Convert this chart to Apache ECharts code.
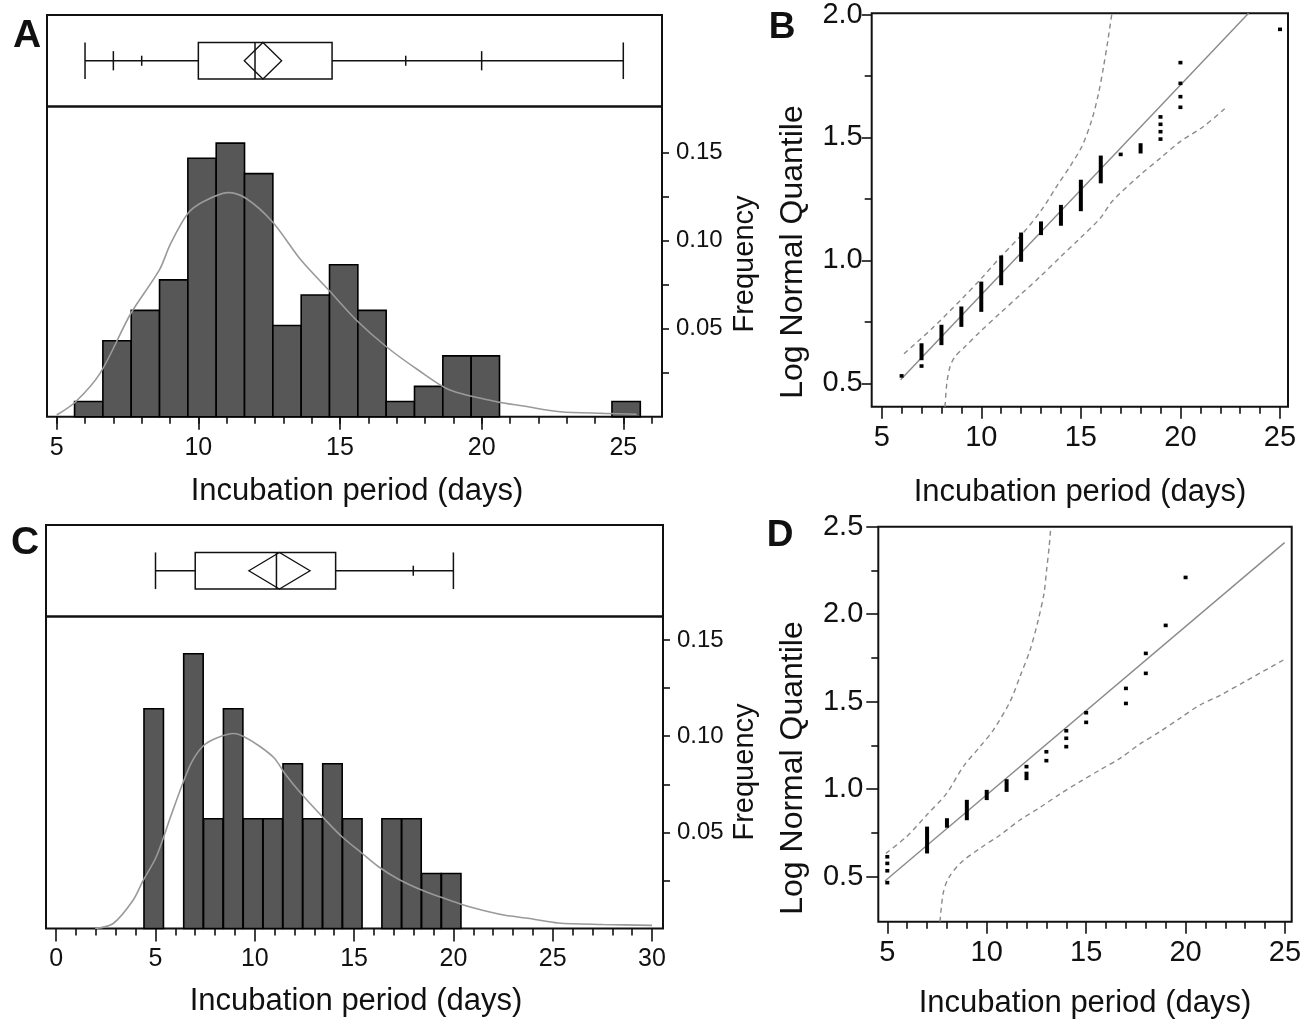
<!DOCTYPE html>
<html>
<head>
<meta charset="utf-8">
<script src="https://cdn.jsdelivr.net/npm/echarts@6.0.0/dist/echarts.min.js"></script>
<style>html,body{margin:0;padding:0;background:#fff}#c{width:1309px;height:1024px}</style>
</head>
<body>
<div id="c"></div>
<script>
// ---------------- DATA ----------------
// Panel A histogram (bin left edge in days, relative frequency)
const histA_binStart = [5.63, 6.63, 7.63, 8.63, 9.63, 10.63, 11.63, 12.63, 13.63, 14.63, 15.63, 16.63, 17.63, 18.63, 19.63, 24.6];
const histA_freq     = [0.0086, 0.0431, 0.0603, 0.0776, 0.1466, 0.1552, 0.1379, 0.0517, 0.0690, 0.0862, 0.0603, 0.0086, 0.0172, 0.0345, 0.0345, 0.0086];
const histA_binWidth = 1;
// Panel A fitted density curve
const densA_days = [5.0, 5.65, 6.53, 7.61, 8.62, 9.02, 9.63, 10.17, 11.04, 11.69, 12.62, 13.63, 14.61, 15.59, 16.66, 17.76, 18.88, 20.53, 21.47, 22.77, 24.3, 25.47];
const densA_freq = [0.001, 0.0082, 0.0246, 0.0584, 0.0831, 0.0982, 0.1153, 0.1219, 0.1271, 0.1238, 0.1105, 0.0887, 0.0717, 0.0546, 0.0394, 0.0265, 0.0151, 0.0085, 0.0061, 0.0028, 0.0019, 0.0014];
// Panel A box plot
const boxA_range = [6, 25];
const boxA_quartiles = [10, 12, 14.72];
const boxA_meanDiamond = [11.62, 12.28, 12.94];
const boxA_q025_q975 = [7, 20];
const boxA_q10_q90 = [8, 17.32];

// Panel C histogram
const histC_binStart = [4.42, 6.42, 7.42, 8.42, 9.42, 10.42, 11.42, 12.42, 13.42, 14.42, 16.4, 17.4, 18.4, 19.4];
const histC_freq     = [0.1143, 0.1429, 0.0571, 0.1143, 0.0571, 0.0571, 0.0857, 0.0571, 0.0857, 0.0571, 0.0571, 0.0571, 0.0286, 0.0286];
const histC_binWidth = 0.98;
// Panel C fitted density curve
const densC_days = [1.96, 2.87, 3.87, 4.38, 5.04, 5.76, 6.37, 6.83, 7.40, 8.02, 8.94, 9.46, 10.28, 11.0, 11.51, 12.33, 13.56, 14.39, 15.41, 16.23, 17.26, 18.49, 19.42, 20.55, 21.78, 22.6, 23.84, 25.28, 27.53, 30.0];
const densC_freq = [0.0, 0.0026, 0.0147, 0.025, 0.0373, 0.0581, 0.0754, 0.0867, 0.0949, 0.0988, 0.1014, 0.0997, 0.0945, 0.0884, 0.0806, 0.0702, 0.0564, 0.0477, 0.039, 0.0321, 0.0255, 0.0196, 0.0161, 0.0121, 0.0087, 0.0069, 0.0052, 0.0029, 0.0021, 0.0016];
// Panel C box plot
const boxC_range = [5, 20];
const boxC_quartiles = [7, 11.09, 14.07];
const boxC_meanDiamond = [9.70, 11.24, 12.78];
const boxC_q025_q975 = [];
const boxC_q10_q90 = [17.98];

// Frequency axis ticks and labels (A and C)
const freqTicks = [0.025, 0.05, 0.075, 0.10, 0.125, 0.15];
const freqLabels = [0.05, 0.10, 0.15];

// Panel B quantile plot: [day, lowest quantile, highest quantile] of each run of tied points
const qqB_marks = [
  [6, 0.530, 0.530],
  [7, 0.601, 0.655], [7, 0.570, 0.570],
  [8, 0.662, 0.730],
  [9, 0.736, 0.804],
  [10, 0.797, 0.905],
  [11, 0.905, 1.011],
  [12, 1.000, 1.104],
  [13, 1.108, 1.149],
  [14, 1.146, 1.216],
  [15, 1.205, 1.318],
  [16, 1.318, 1.416],
  [17, 1.428, 1.428],
  [18, 1.439, 1.466],
  [19, 1.49, 1.49], [19, 1.52, 1.52], [19, 1.55, 1.55], [19, 1.58, 1.58],
  [20, 1.619, 1.619], [20, 1.662, 1.662], [20, 1.716, 1.716], [20, 1.800, 1.800],
  [25, 1.935, 1.935]
];
const qqB_fit = [[5.95, 0.514], [23.42, 2.0]];
const qqB_upper = [[6.12, 0.62], [7.5, 0.72], [9.0, 0.84], [10.0, 0.925], [11.0, 1.015], [12.0, 1.10], [13.0, 1.20], [13.8, 1.30], [14.46, 1.38], [15.05, 1.46], [15.55, 1.568], [15.89, 1.676], [16.14, 1.784], [16.36, 1.892], [16.56, 2.0]];
const qqB_lower = [[8.18, 0.405], [8.27, 0.5], [8.43, 0.567], [8.68, 0.608], [9.10, 0.642], [9.94, 0.709], [10.94, 0.784], [11.95, 0.858], [12.95, 0.932], [13.96, 1.011], [14.96, 1.088], [15.97, 1.169], [16.6, 1.24], [17.98, 1.345], [18.98, 1.412], [19.99, 1.48], [21.16, 1.541], [22.25, 1.615]];

// Panel D quantile plot
const qqD_marks = [
  [5, 0.466, 0.466], [5, 0.534, 0.534], [5, 0.576, 0.576], [5, 0.614, 0.614],
  [7, 0.643, 0.776],
  [8, 0.790, 0.824],
  [9, 0.833, 0.929],
  [10, 0.948, 0.986],
  [11, 0.995, 1.047],
  [12, 1.062, 1.090], [12, 1.129, 1.129],
  [13, 1.163, 1.163], [13, 1.214, 1.214],
  [14, 1.243, 1.243], [14, 1.291, 1.291], [14, 1.334, 1.334],
  [15, 1.382, 1.382], [15, 1.437, 1.437],
  [17, 1.490, 1.490], [17, 1.576, 1.576],
  [18, 1.662, 1.662], [18, 1.776, 1.776],
  [19, 1.936, 1.936],
  [20, 2.210, 2.210]
];
const qqD_fit = [[4.88, 0.475], [24.98, 2.409]];
const qqD_upper = [[4.93, 0.633], [5.97, 0.729], [6.98, 0.852], [7.98, 0.976], [8.82, 1.129], [9.66, 1.243], [10.33, 1.338], [11.17, 1.5], [11.67, 1.643], [12.18, 1.795], [12.59, 1.967], [12.88, 2.119], [13.01, 2.252], [13.14, 2.386], [13.21, 2.481]];
const qqD_lower = [[7.65, 0.243], [7.81, 0.405], [8.07, 0.49], [8.66, 0.576], [9.66, 0.662], [10.67, 0.738], [11.67, 0.824], [12.68, 0.896], [13.68, 0.972], [14.69, 1.043], [15.69, 1.110], [16.70, 1.176], [17.70, 1.258], [18.71, 1.329], [19.71, 1.405], [20.72, 1.481], [21.72, 1.535], [23.06, 1.62], [24.98, 1.742]];

// Titles
const xTitle = 'Incubation period (days)';
const freqTitle = 'Frequency';
const qTitle = 'Log Normal Quantile';

// ---------------- LAYOUT ----------------
const FONT = "'Liberation Sans', Arial, Helvetica, sans-serif";
const INK = '#111';
const A = {l: 47, r: 662, boxTop: 15, div: 106.5, base: 416.7, x0: 56.7, ppd: 28.33, ppf: 1762.7};
A.xmin = 5 - (A.x0 - A.l) / A.ppd; A.xmax = 5 + (A.r - A.x0) / A.ppd; A.ymax = (A.base - A.div) / A.ppf;
const C = {l: 46, r: 663, boxTop: 525, div: 616.5, base: 928.5, x0: 56.2, ppd: 19.86, ppf: 1923};
C.xmin = 0 - (C.x0 - C.l) / C.ppd; C.xmax = (C.r - C.x0) / C.ppd; C.ymax = (C.base - C.div) / C.ppf;
const B = {l: 871.7, r: 1288, t: 13.3, b: 406.7, x5: 881.7, ppd: 19.915, y05: 383.3, ppu: 246.67, ytop: 2.0};
B.xmin = 5 - (B.x5 - B.l) / B.ppd; B.xmax = 5 + (B.r - B.x5) / B.ppd; B.ymin = 0.5 - (B.b - B.y05) / B.ppu;
const D = {l: 878.3, r: 1291.7, t: 526.7, b: 921.7, x5: 887.3, ppd: 19.885, y05: 876.7, ppu: 175, ytop: 2.5};
D.xmin = 5 - (D.x5 - D.l) / D.ppd; D.xmax = 5 + (D.r - D.x5) / D.ppd; D.ymin = 0.5 - (D.b - D.y05) / D.ppu;

const frame = {show: true, borderColor: INK, borderWidth: 2, backgroundColor: 'transparent'};
const grids = [
  Object.assign({left: A.l, top: A.boxTop, width: A.r - A.l, height: A.div - A.boxTop}, frame),          //0
  Object.assign({left: A.l, top: A.div, width: A.r - A.l, height: A.base - A.div}, frame),               //1
  {left: A.x0, top: A.div, width: 20 * A.ppd, height: A.base - A.div},                                   //2
  {left: A.x0, top: A.div, width: 21 * A.ppd, height: A.base - A.div},                                   //3
  Object.assign({left: C.l, top: C.boxTop, width: C.r - C.l, height: C.div - C.boxTop}, frame),          //4
  Object.assign({left: C.l, top: C.div, width: C.r - C.l, height: C.base - C.div}, frame),               //5
  {left: C.x0, top: C.div, width: 30 * C.ppd, height: C.base - C.div},                                   //6
  Object.assign({left: B.l, top: B.t, width: B.r - B.l, height: B.b - B.t}, frame),                      //7
  {left: B.x5, top: B.t, width: 20 * B.ppd, height: B.y05 - B.t},                                        //8
  Object.assign({left: D.l, top: D.t, width: D.r - D.l, height: D.b - D.t}, frame),                      //9
  {left: D.x5, top: D.t, width: 20 * D.ppd, height: D.y05 - D.t}                                         //10
];

const hidden = (g, min, max) => ({gridIndex: g, type: 'value', min: min, max: max, show: false});
const tickLine = {color: INK, width: 1.6};
const noLine = {show: false, onZero: false};
const xAxes = [
  hidden(0, A.xmin, A.xmax),
  hidden(1, A.xmin, A.xmax),
  {gridIndex: 2, type: 'value', min: 5, max: 25, interval: 5, axisLine: noLine, splitLine: {show: false},
   axisTick: {length: 13, lineStyle: tickLine}, axisLabel: {fontSize: 25, fontFamily: FONT, color: INK, margin: 19}},
  {gridIndex: 3, type: 'value', min: 5, max: 26, interval: 1, axisLine: noLine, splitLine: {show: false},
   axisTick: {length: 7, lineStyle: tickLine}, axisLabel: {show: false}},
  hidden(4, C.xmin, C.xmax),
  hidden(5, C.xmin, C.xmax),
  {gridIndex: 6, type: 'value', min: 0, max: 30, interval: 5, axisLine: noLine, splitLine: {show: false},
   axisTick: {length: 13, lineStyle: tickLine}, minorTick: {show: true, splitNumber: 5, length: 7, lineStyle: tickLine},
   axisLabel: {fontSize: 25, fontFamily: FONT, color: INK, margin: 18}},
  hidden(7, B.xmin, B.xmax),
  {gridIndex: 8, type: 'value', min: 5, max: 25, interval: 5, offset: B.b - B.y05, axisLine: noLine, splitLine: {show: false},
   axisTick: {length: 12, lineStyle: tickLine}, minorTick: {show: true, splitNumber: 5, length: 7, lineStyle: tickLine},
   axisLabel: {fontSize: 29, fontFamily: FONT, color: INK, margin: 17}},
  hidden(9, D.xmin, D.xmax),
  {gridIndex: 10, type: 'value', min: 5, max: 25, interval: 5, offset: D.b - D.y05, axisLine: noLine, splitLine: {show: false},
   axisTick: {length: 12, lineStyle: tickLine}, minorTick: {show: true, splitNumber: 5, length: 7, lineStyle: tickLine},
   axisLabel: {fontSize: 29, fontFamily: FONT, color: INK, margin: 17}}
];
function freqLabel(v) {
  for (let i = 0; i < freqLabels.length; i++) {
    if (Math.abs(v - freqLabels[i]) < 1e-6) return freqLabels[i].toFixed(2);
  }
  return '';
}
const freqAxis = (g, max) => ({gridIndex: g, type: 'value', position: 'right', min: 0, max: max, interval: 0.025,
  axisLine: noLine, splitLine: {show: false},
  axisTick: {show: true, length: 7, lineStyle: tickLine, customValues: freqTicks},
  axisLabel: {formatter: freqLabel, customValues: freqLabels, fontSize: 24, fontFamily: FONT, color: INK, margin: 14}});
const yAxes = [
  hidden(0, 0, 1),
  freqAxis(1, A.ymax),
  hidden(2, 0, 1),
  hidden(3, 0, 1),
  hidden(4, 0, 1),
  freqAxis(5, C.ymax),
  hidden(6, 0, 1),
  hidden(7, B.ymin, B.ytop),
  {gridIndex: 8, type: 'value', min: 0.5, max: 2.0, interval: 0.5, offset: B.x5 - B.l, axisLine: noLine, splitLine: {show: false},
   axisTick: {length: 10, lineStyle: tickLine}, minorTick: {show: true, splitNumber: 2, length: 7, lineStyle: tickLine},
   axisLabel: {fontSize: 29, fontFamily: FONT, color: INK, margin: 9, formatter: v => v.toFixed(1)}},
  hidden(9, D.ymin, D.ytop),
  {gridIndex: 10, type: 'value', min: 0.5, max: 2.5, interval: 0.5, offset: D.x5 - D.l, axisLine: noLine, splitLine: {show: false},
   axisTick: {length: 12, lineStyle: tickLine}, minorTick: {show: true, splitNumber: 2, length: 7, lineStyle: tickLine},
   axisLabel: {fontSize: 29, fontFamily: FONT, color: INK, margin: 15, formatter: v => v.toFixed(1)}}
];

// ---------------- SERIES ----------------
function histSeries(g, starts, freqs, width) {
  return {type: 'custom', xAxisIndex: g, yAxisIndex: g, z: 2,
    data: starts.map((s, i) => [s, freqs[i]]),
    encode: {x: 0, y: 1},
    renderItem: function (params, api) {
      const s = api.value(0), f = api.value(1);
      const p0 = api.coord([s, f]), p1 = api.coord([s + width, 0]);
      return {type: 'rect', shape: {x: p0[0], y: p0[1], width: p1[0] - p0[0], height: p1[1] - p0[1]},
        style: {fill: '#575757', stroke: '#000', lineWidth: 1.6}};
    }};
}
function curveSeries(g, xs, ys) {
  return {type: 'line', xAxisIndex: g, yAxisIndex: g, z: 3, data: xs.map((x, i) => [x, ys[i]]),
    showSymbol: false, smooth: 0.3, lineStyle: {color: '#9a9a9a', width: 1.6}, silent: true};
}
function boxSeries(g, range, quart, mean, medTicks, smallTicks) {
  return {type: 'custom', xAxisIndex: g, yAxisIndex: g, z: 3, data: [[quart[1], 0.5]],
    renderItem: function (params, api) {
      const X = d => api.coord([d, 0.5])[0];
      const Y = v => api.coord([range[0], v])[1];
      const yc = Y(0.5), yT = Y(0.70), yB = Y(0.30);
      const st = {stroke: '#111', lineWidth: 1.5, fill: null};
      const line = (x1, y1, x2, y2) => ({type: 'line', shape: {x1, y1, x2, y2}, style: st});
      const ch = [];
      ch.push(line(X(range[0]), yc, X(quart[0]), yc));
      ch.push(line(X(quart[2]), yc, X(range[1]), yc));
      ch.push(line(X(range[0]), yT, X(range[0]), yB));
      ch.push(line(X(range[1]), yT, X(range[1]), yB));
      medTicks.forEach(d => ch.push(line(X(d), Y(0.605), X(d), Y(0.395))));
      smallTicks.forEach(d => ch.push(line(X(d), Y(0.555), X(d), Y(0.445))));
      ch.push({type: 'rect', shape: {x: X(quart[0]), y: yT, width: X(quart[2]) - X(quart[0]), height: yB - yT}, style: st});
      ch.push(line(X(quart[1]), yT, X(quart[1]), yB));
      ch.push({type: 'polygon', shape: {points: [[X(mean[0]), yc], [X(mean[1]), yT], [X(mean[2]), yc], [X(mean[1]), yB]]},
        style: {stroke: '#111', lineWidth: 1.3, fill: null}});
      return {type: 'group', children: ch};
    }};
}
function marksSeries(g, marks) {
  return {type: 'custom', xAxisIndex: g, yAxisIndex: g, z: 4, data: marks, encode: {x: 0, y: 1},
    renderItem: function (params, api) {
      const d = api.value(0), lo = api.value(1), hi = api.value(2);
      const a = api.coord([d, hi]), b = api.coord([d, lo]);
      return {type: 'rect', shape: {x: a[0] - 2, y: a[1] - 1.8, width: 4, height: b[1] - a[1] + 3.6}, style: {fill: '#000'}};
    }};
}
function fitSeries(g, pts) {
  return {type: 'line', xAxisIndex: g, yAxisIndex: g, z: 3, data: pts, showSymbol: false,
    lineStyle: {color: '#8a8a8a', width: 1.4}, silent: true};
}
function bandSeries(g, pts) {
  return {type: 'line', xAxisIndex: g, yAxisIndex: g, z: 3, data: pts, showSymbol: false, smooth: 0.3,
    lineStyle: {color: '#8a8a8a', width: 1.4, type: [5, 4]}, silent: true};
}

const series = [
  histSeries(1, histA_binStart, histA_freq, histA_binWidth),
  curveSeries(1, densA_days, densA_freq),
  boxSeries(0, boxA_range, boxA_quartiles, boxA_meanDiamond, boxA_q025_q975, boxA_q10_q90),
  histSeries(5, histC_binStart, histC_freq, histC_binWidth),
  curveSeries(5, densC_days, densC_freq),
  boxSeries(4, boxC_range, boxC_quartiles, boxC_meanDiamond, boxC_q025_q975, boxC_q10_q90),
  fitSeries(7, qqB_fit), bandSeries(7, qqB_upper), bandSeries(7, qqB_lower), marksSeries(7, qqB_marks),
  fitSeries(9, qqD_fit), bandSeries(9, qqD_upper), bandSeries(9, qqD_lower), marksSeries(9, qqD_marks)
];

const txt = (t, x, y, size, opts) => Object.assign({type: 'text', x: x, y: y, silent: true,
  style: Object.assign({text: t, fontSize: size, fontFamily: FONT, fill: INK, align: 'center', verticalAlign: 'middle',
    textAlign: 'center', textVerticalAlign: 'middle'}, (opts && opts.style) || {})}, (opts && opts.el) || {});
const bold = {style: {fontWeight: 'bold'}};
const rot = {el: {rotation: Math.PI / 2}};
const graphic = [
  txt('A', 27, 36, 39, bold), txt('B', 782, 28, 37, bold), txt('C', 25, 543, 39, bold), txt('D', 780, 536, 37, bold),
  txt(xTitle, 357, 491, 31), txt(xTitle, 356, 1001, 31), txt(xTitle, 1080, 492, 31), txt(xTitle, 1085, 1003, 31),
  txt(freqTitle, 745, 264, 29, rot), txt(freqTitle, 745, 772, 29, rot),
  txt(qTitle, 793, 252, 32, rot), txt(qTitle, 793, 768, 32, rot)
];

const chart = echarts.init(document.getElementById('c'), null, {renderer: 'canvas'});
chart.setOption({
  animation: false,
  backgroundColor: '#fff',
  grid: grids,
  xAxis: xAxes,
  yAxis: yAxes,
  series: series,
  graphic: graphic
});
</script>
</body>
</html>
